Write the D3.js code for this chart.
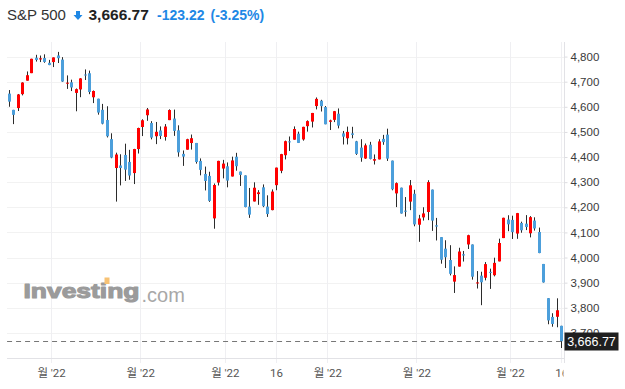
<!DOCTYPE html>
<html><head><meta charset="utf-8">
<script src="https://cdn.jsdelivr.net/npm/d3@7/dist/d3.min.js"></script>
<style>
html,body{margin:0;padding:0;background:#fff;}
svg{display:block;}
</style></head>
<body>
<svg id="chart" width="625" height="389"></svg>
<script>
// ---------------- DATA ----------------
const dates = [
 "2021-12-17","2021-12-20","2021-12-21","2021-12-22","2021-12-23","2021-12-27","2021-12-28","2021-12-29","2021-12-30","2021-12-31",
 "2022-01-03","2022-01-04","2022-01-05","2022-01-06","2022-01-07","2022-01-10","2022-01-11","2022-01-12","2022-01-13","2022-01-14",
 "2022-01-18","2022-01-19","2022-01-20","2022-01-21","2022-01-24","2022-01-25","2022-01-26","2022-01-27","2022-01-28","2022-01-31",
 "2022-02-01","2022-02-02","2022-02-03","2022-02-04","2022-02-07","2022-02-08","2022-02-09","2022-02-10","2022-02-11","2022-02-14",
 "2022-02-15","2022-02-16","2022-02-17","2022-02-18","2022-02-22","2022-02-23","2022-02-24","2022-02-25","2022-02-28",
 "2022-03-01","2022-03-02","2022-03-03","2022-03-04","2022-03-07","2022-03-08","2022-03-09","2022-03-10","2022-03-11","2022-03-14",
 "2022-03-15","2022-03-16","2022-03-17","2022-03-18","2022-03-21","2022-03-22","2022-03-23","2022-03-24","2022-03-25","2022-03-28",
 "2022-03-29","2022-03-30","2022-03-31",
 "2022-04-01","2022-04-04","2022-04-05","2022-04-06","2022-04-07","2022-04-08","2022-04-11","2022-04-12","2022-04-13","2022-04-14",
 "2022-04-18","2022-04-19","2022-04-20","2022-04-21","2022-04-22","2022-04-25","2022-04-26","2022-04-27","2022-04-28","2022-04-29",
 "2022-05-02","2022-05-03","2022-05-04","2022-05-05","2022-05-06","2022-05-09","2022-05-10","2022-05-11","2022-05-12","2022-05-13",
 "2022-05-16","2022-05-17","2022-05-18","2022-05-19","2022-05-20","2022-05-23","2022-05-24","2022-05-25","2022-05-26","2022-05-27","2022-05-31",
 "2022-06-01","2022-06-02","2022-06-03","2022-06-06","2022-06-07","2022-06-08","2022-06-09","2022-06-10","2022-06-13","2022-06-14","2022-06-15","2022-06-16"
];
const opens = [
 4652.5,4587.9,4595.0,4650.4,4704.0,4734.0,4795.5,4788.6,4794.2,4775.2,
 4778.1,4804.5,4788.0,4693.4,4697.7,4655.3,4669.1,4728.6,4733.6,4638.0,
 4632.2,4588.0,4547.4,4471.4,4356.3,4366.6,4408.4,4380.6,4336.2,4431.8,
 4519.6,4566.4,4535.4,4482.8,4505.8,4480.0,4547.0,4553.2,4506.3,4412.6,
 4429.3,4455.8,4456.1,4384.6,4332.7,4324.9,4155.8,4298.4,4354.2,
 4363.1,4322.6,4401.3,4342.1,4327.0,4202.7,4223.1,4252.6,4279.5,4202.8,
 4188.8,4288.1,4345.1,4407.3,4462.4,4469.1,4493.1,4470.0,4522.9,4541.1,
 4602.9,4624.2,4599.0,
 4540.3,4548.0,4572.5,4494.2,4474.7,4494.2,4462.6,4437.6,4394.3,4449.1,
 4385.6,4390.6,4472.3,4489.2,4385.8,4255.3,4278.1,4186.5,4222.6,4253.8,
 4130.6,4159.8,4181.2,4270.4,4128.2,4081.3,4035.2,3990.1,3904.0,3963.9,
 4013.0,4052.0,4052.0,3899.0,3927.8,3919.4,3942.9,3929.6,3984.6,4077.4,4151.1,
 4149.8,4095.4,4137.6,4134.7,4096.5,4147.1,4101.7,3974.4,3838.2,3763.5,3764.1,3728.2
];
const highs = [
 4666.7,4587.9,4651.1,4697.7,4740.7,4791.5,4807.0,4804.1,4808.9,4786.8,
 4796.6,4818.6,4797.7,4725.0,4708.0,4673.0,4714.1,4748.8,4744.1,4665.1,
 4632.2,4611.6,4602.1,4494.5,4417.4,4411.0,4453.2,4428.7,4432.7,4516.9,
 4550.5,4595.3,4542.9,4539.7,4521.9,4531.3,4590.0,4588.9,4526.3,4426.2,
 4472.8,4489.6,4456.1,4394.6,4362.1,4341.5,4294.7,4385.3,4388.8,
 4378.5,4401.5,4416.8,4342.1,4327.0,4276.9,4299.4,4268.3,4291.0,4247.6,
 4271.1,4357.9,4412.7,4465.4,4481.8,4522.0,4501.1,4520.6,4546.0,4575.7,
 4637.3,4627.8,4603.1,
 4548.7,4583.5,4593.5,4503.9,4521.2,4520.4,4464.4,4471.0,4453.9,4460.5,
 4410.3,4471.0,4488.3,4512.9,4385.8,4299.0,4278.1,4240.7,4308.5,4269.7,
 4169.8,4200.1,4307.7,4270.4,4157.7,4081.3,4068.8,4049.1,3964.8,4038.9,
 4026.2,4090.7,4052.0,3946.0,3943.4,3981.9,3955.7,3999.3,4075.1,4158.5,4168.3,
 4166.5,4177.5,4142.7,4168.8,4164.9,4160.1,4119.1,3974.4,3838.2,3778.2,3837.6,3728.2
];
const lows = [
 4600.2,4531.1,4583.2,4645.5,4704.0,4734.0,4780.0,4778.1,4775.3,4765.8,
 4758.2,4774.3,4699.4,4671.3,4662.7,4582.2,4638.3,4706.7,4650.3,4614.8,
 4568.7,4530.2,4478.0,4395.3,4222.6,4287.1,4304.8,4309.5,4292.5,4414.0,
 4483.5,4544.3,4470.4,4451.5,4471.5,4465.4,4547.0,4484.3,4401.4,4364.8,
 4429.3,4429.7,4373.8,4327.2,4267.1,4221.5,4114.7,4286.8,4315.1,
 4279.5,4322.6,4345.6,4285.0,4199.9,4157.9,4223.1,4209.8,4200.5,4161.7,
 4187.9,4267.9,4335.7,4390.6,4424.3,4469.1,4455.8,4465.2,4501.1,4517.7,
 4589.7,4581.3,4530.4,
 4507.6,4539.2,4514.2,4450.0,4450.3,4474.6,4408.4,4381.3,4392.7,4390.8,
 4370.3,4390.6,4448.8,4384.5,4267.6,4200.8,4175.0,4162.9,4188.6,4124.3,
 4062.5,4147.1,4148.9,4106.0,4067.9,3975.5,3958.2,3928.8,3858.9,3963.9,
 3984.0,4033.9,3911.9,3876.6,3810.3,3909.0,3875.1,3925.0,3984.6,4077.4,4104.9,
 4073.9,4074.4,4098.7,4109.2,4080.2,4107.2,4017.2,3900.2,3734.3,3724.5,3722.3,3639.8
];
const closes = [
 4620.6,4568.0,4649.2,4696.6,4725.8,4791.2,4786.4,4793.1,4778.7,4766.2,
 4796.6,4793.5,4700.6,4696.1,4677.0,4670.3,4713.1,4726.4,4659.0,4662.9,
 4577.1,4532.8,4482.7,4397.9,4410.1,4356.5,4349.9,4326.5,4431.9,4515.6,
 4546.5,4589.4,4477.4,4500.5,4483.9,4521.5,4587.2,4504.1,4418.6,4401.7,
 4471.1,4475.0,4380.3,4348.9,4304.8,4225.5,4288.7,4384.7,4373.9,
 4306.3,4386.5,4363.5,4328.9,4201.1,4170.7,4277.9,4259.5,4204.3,4173.1,
 4262.5,4357.9,4411.7,4463.1,4461.2,4511.6,4456.2,4520.2,4543.1,4575.5,
 4631.6,4602.5,4530.4,
 4545.9,4582.6,4525.1,4481.2,4500.2,4488.3,4412.5,4397.5,4446.6,4392.6,
 4391.7,4462.2,4459.5,4393.7,4271.8,4296.1,4175.2,4184.0,4287.5,4131.9,
 4155.4,4175.5,4300.2,4146.9,4123.3,3991.2,4001.1,3935.2,3930.1,4023.9,
 4008.0,4088.9,3923.7,3900.8,3901.4,3973.8,3941.5,3978.7,4057.8,4158.2,4132.2,
 4101.2,4176.8,4108.5,4121.4,4160.7,4115.8,4017.8,3900.9,3749.6,3735.5,3790.0,3666.8
];
const yTicks = [3700,3800,3900,4000,4100,4200,4300,4400,4500,4600,4700,4800];
const xTickDates  = ["2022-01-03","2022-02-01","2022-03-01","2022-03-16","2022-04-01","2022-05-02","2022-06-01","2022-06-16"];
const xTickLabels = ["월 '22","월 '22","월 '22","16","월 '22","월 '22","월 '22","16"];
const xTickKinds  = ["month","month","month","day","month","month","month","day"];
const titleName = "S&P 500";
const lastPrice = 3666.77;
const changeAbs = "-123.22";
const changePct = "(-3.25%)";

// ---------------- DRAW ----------------
const svg = d3.select("#chart");
const W = 625, H = 389;
const plot = {left: 7.07, right: 563.93, top: 42, bottom: 358};
const UP = "#ff0000", DOWN = "#4c9fdb", WICK = "#2b2b2b";

svg.append("rect").attr("width", W).attr("height", H).attr("fill", "#fff");

const x = d3.scaleBand().domain(dates).range([plot.left, plot.right]).paddingInner(0).paddingOuter(0);
const bw = x.bandwidth();
const y = d3.scaleLinear().domain([3600, 4858]).range([plot.bottom, plot.top]);

// grid
const grid = svg.append("g");
grid.selectAll("line.h").data(yTicks).join("line")
  .attr("x1", plot.left).attr("x2", 564)
  .attr("y1", d => Math.round(y(d)) + 0.5).attr("y2", d => Math.round(y(d)) + 0.5)
  .attr("stroke", "#f2f2f2").attr("stroke-width", 1);
const tickX = (d, i) => xTickKinds[i] === "month" ? x(d) : x(d) + bw / 2;
grid.selectAll("line.v").data(xTickDates).join("line")
  .attr("x1", (d, i) => Math.floor(tickX(d, i)) + 0.5).attr("x2", (d, i) => Math.floor(tickX(d, i)) + 0.5)
  .attr("y1", plot.top).attr("y2", 363)
  .attr("stroke", "#efeff2").attr("stroke-width", 1);

// watermark
const wm = svg.append("g");
wm.append("text").attr("x", 23.5).attr("y", 298)
  .attr("font-family", "'Liberation Sans', Arial, sans-serif").attr("font-weight", "bold")
  .attr("font-size", 20.5).attr("fill", "#9b9b9b")
  .attr("stroke", "#9b9b9b").attr("stroke-width", 1.1).attr("stroke-linejoin", "round")
  .attr("textLength", 116).attr("lengthAdjust", "spacingAndGlyphs")
  .text("Investing");
wm.append("rect").attr("x", 104.5).attr("y", 277.5).attr("width", 5).attr("height", 6.5)
  .attr("fill", "#f7c274");
wm.append("text").attr("x", 141.5).attr("y", 302)
  .attr("font-family", "'Liberation Sans', Arial, sans-serif")
  .attr("font-size", 20).attr("fill", "#a8a8a8")
  .text(".com");

// x axis
svg.append("line").attr("x1", plot.left).attr("x2", 564).attr("y1", 358.5).attr("y2", 358.5)
  .attr("stroke", "#e2e2e6");
const xAxisG = svg.append("g");
const defs = svg.append("defs");
defs.append("clipPath").attr("id", "xclip").append("rect")
  .attr("x", 0).attr("y", 355).attr("width", 563.5).attr("height", 34);
xAxisG.attr("clip-path", "url(#xclip)")
  .selectAll("text").data(xTickDates).join("text")
  .attr("x", (d, i) => tickX(d, i)).attr("y", 376.5)
  .attr("text-anchor", "middle")
  .attr("font-family", "Roboto, 'Noto Sans CJK KR', sans-serif")
  .attr("font-size", 11.5).attr("fill", "#555")
  .text((d, i) => xTickLabels[i]);

// y axis
svg.append("line").attr("x1", 564.5).attr("x2", 564.5).attr("y1", plot.top).attr("y2", 363)
  .attr("stroke", "#e2e2e6");
const yAxis = d3.axisRight(y).tickValues(yTicks).tickSize(3).tickPadding(3)
  .tickFormat(d3.format(","));
const yG = svg.append("g").attr("transform", "translate(564.5,0)").call(yAxis);
yG.select(".domain").remove();
yG.selectAll(".tick line").attr("stroke", "#dcdce0");
yG.selectAll(".tick text").attr("fill", "#3a3a3a")
  .attr("font-family", "'Liberation Sans', Arial, sans-serif").attr("font-size", 11.5);

// candles
const idx = d3.range(dates.length);
const cg = svg.append("g");
const cx = i => Math.floor(x(dates[i]) + bw / 2) + 0.5;
cg.selectAll("line").data(idx).join("line")
  .attr("x1", cx).attr("x2", cx)
  .attr("y1", i => y(highs[i])).attr("y2", i => y(lows[i]))
  .attr("stroke", WICK).attr("stroke-width", 1);
cg.selectAll("rect").data(idx).join("rect")
  .attr("x", i => cx(i) - 1.5).attr("width", 3)
  .attr("y", i => y(Math.max(opens[i], closes[i])))
  .attr("height", i => Math.max(1, Math.abs(y(opens[i]) - y(closes[i]))))
  .attr("fill", i => closes[i] >= opens[i] ? UP : DOWN);

// last price line + label
const yl = Math.round(y(lastPrice)) + 0.5;
svg.append("line").attr("x1", plot.left).attr("x2", 564).attr("y1", yl).attr("y2", yl)
  .attr("stroke", "#777").attr("stroke-dasharray", "5,4");
svg.append("rect").attr("x", 564.5).attr("y", yl - 9).attr("width", 54).attr("height", 18)
  .attr("fill", "#1f1f1f");
svg.append("text").attr("x", 591.5).attr("y", yl + 4.5).attr("text-anchor", "middle")
  .attr("font-family", "'Liberation Sans', Arial, sans-serif").attr("font-size", 12.5)
  .attr("fill", "#fff").text(d3.format(",.2f")(lastPrice));

// title
const tf = "'Liberation Sans', Arial, sans-serif";
svg.append("text").attr("x", 7).attr("y", 20).attr("font-family", tf).attr("font-size", 15)
  .attr("fill", "#333").text(titleName);
const ar = svg.append("g").attr("fill", "#1e88e5");
ar.append("rect").attr("x", 76).attr("y", 11).attr("width", 4).attr("height", 4.5);
ar.append("path").attr("d", "M73.5,15 L82.5,15 L78,20 Z");
svg.append("text").attr("x", 88.5).attr("y", 20).attr("font-family", tf).attr("font-size", 15.5)
  .attr("font-weight", "bold").attr("fill", "#222").text(d3.format(",.2f")(lastPrice));
svg.append("text").attr("x", 157).attr("y", 20).attr("font-family", tf).attr("font-size", 14)
  .attr("font-weight", "bold").attr("fill", "#1e88e5").text(changeAbs);
svg.append("text").attr("x", 210.5).attr("y", 20).attr("font-family", tf).attr("font-size", 14)
  .attr("font-weight", "bold").attr("fill", "#1e88e5").text(changePct);
</script>
</body></html>
